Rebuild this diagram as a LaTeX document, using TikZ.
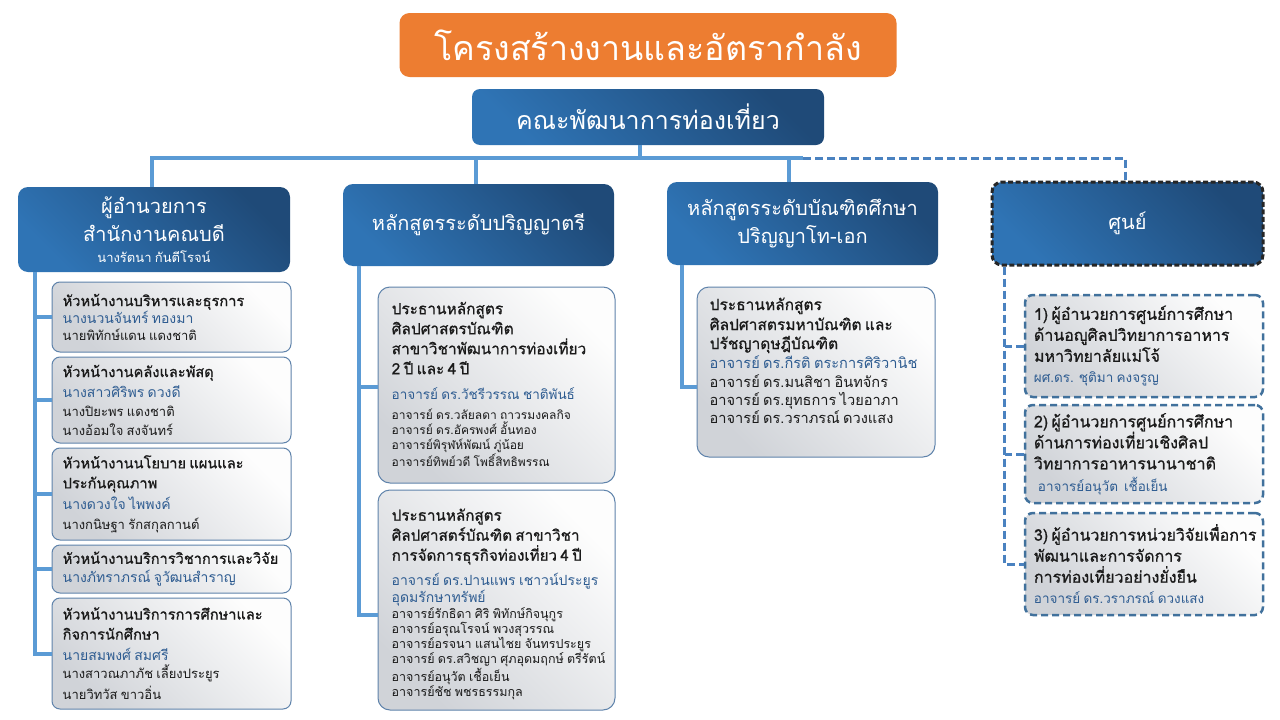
\documentclass[tikz,border=0pt]{standalone}
\usepackage{fontspec}
\setmainfont{Loma}[Script=Thai]
\newfontfamily\medfont{Loma}[Script=Thai,FakeBold=0.9]
\usetikzlibrary{calc}
\definecolor{orng}{HTML}{ED7D31}
\definecolor{hdark}{HTML}{1F4A78}
\definecolor{hlight}{HTML}{2F74B5}
\definecolor{conncol}{HTML}{5B9BD5}
\definecolor{dconncol}{HTML}{4A82C0}
\definecolor{bordcol}{HTML}{5F83AB}
\definecolor{cbord}{HTML}{41719C}
\definecolor{nblue}{HTML}{2E5C91}
\definecolor{boxlight}{HTML}{FDFDFD}
\definecolor{boxgray}{HTML}{D0D3D8}
\definecolor{inktext}{HTML}{1A1A1A}
\setlength\lineskiplimit{-30pt}
\setlength\lineskip{0pt}
\def\tsz{14.6}\def\tsk{20}\def\bsz{14}\def\bsk{20}\def\ksz{13}\def\ksk{19}
\newcommand\ttlline[2][\tsk]{{\medfont\fontsize{\tsz}{#1}\selectfont #2\par}}
\newcommand\bname[2][\bsk]{{\color{nblue}\fontsize{\bsz}{#1}\selectfont #2\par}}
\newcommand\kname[2][\ksk]{{\fontsize{\ksz}{#1}\selectfont #2\par}}
\tikzset{
  headbox/.style={rounded corners=10pt, top color=hdark, bottom color=hlight, shading angle=-45,
    text=white, align=center, inner xsep=6pt, inner ysep=0pt},
  childbox/.style={rounded corners=8pt, draw=bordcol, line width=1pt, top color=boxlight,
    bottom color=boxgray, shading angle=-45, inner sep=0pt},
  cbox/.style={rounded corners=8pt, draw=cbord, line width=2.5pt, dash pattern=on 7pt off 4pt,
    top color=boxlight, bottom color=boxgray, shading angle=-45, inner sep=0pt},
  txt/.style={anchor=west, inner sep=0pt, text width=300pt, align=left, text=inktext},
  conn/.style={draw=conncol, line width=4pt},
  dconn/.style={draw=dconncol, line width=3pt, dash pattern=on 8pt off 4pt},
}
\begin{document}
\begin{tikzpicture}[x=1pt,y=-1pt]
\useasboundingbox (0,0) rectangle (1280,720);
\fill[white] (0,0) rectangle (1280,720);

% title and faculty
\node[rounded corners=10pt, fill=orng, text=white, minimum width=497pt, minimum height=64pt, inner sep=0pt,
  font=\fontsize{34}{40}\selectfont] (title) at (648,45) {โครงสร้างงานและอัตรากำลัง};
\node[headbox, rounded corners=8pt, minimum width=352pt, minimum height=56pt,
  font=\fontsize{25}{30}\selectfont] (fac) at (648,117) {คณะพัฒนาการท่องเที่ยว};

% heads
\node[headbox, text width=260pt, minimum height=85pt] (head1) at (154,229.5)
  {{\fontsize{20}{28}\selectfont ผู้อำนวยการ\par สำนักงานคณบดี\par}{\fontsize{13}{21}\selectfont นางรัตนา กันตีโรจน์\par}};
\node[headbox, text width=259pt, minimum height=82pt] (head2) at (478.5,225)
  {{\fontsize{20}{28}\selectfont หลักสูตรระดับปริญญาตรี\par}};
\node[headbox, text width=259pt, minimum height=83pt] (head3) at (802.5,223.5)
  {{\fontsize{20}{28}\selectfont หลักสูตรระดับบัณฑิตศึกษา\par ปริญญาโท-เอก\par}};
\node[headbox, text width=259pt, minimum height=83pt, draw=black!85, line width=3pt,
  dash pattern=on 5pt off 2.5pt] (head4) at (1127.5,223.5)
  {{\fontsize{20}{28}\selectfont ศูนย์\par}};

% left column boxes
\node[childbox, minimum width=239pt, minimum height=70pt] (L1) at (171.5,317) {};
\node[childbox, minimum width=239pt, minimum height=86pt] (L2) at (171.5,400) {};
\node[childbox, minimum width=239pt, minimum height=92pt] (L3) at (171.5,494) {};
\node[childbox, minimum width=239pt, minimum height=48pt] (L4) at (171.5,569) {};
\node[childbox, minimum width=239pt, minimum height=111pt] (L5) at (171.5,653.5) {};
\node[txt] (L1t) at ([xshift=11pt]L1.west) {\ttlline{หัวหน้างานบริหารและธุรการ}\bname[17]{นางนวนจันทร์ ทองมา}\kname[17]{นายพิทักษ์แดน แดงชาติ}};
\node[txt] (L2t) at ([xshift=11pt]L2.west) {\ttlline{หัวหน้างานคลังและพัสดุ}\bname{นางสาวศิริพร ดวงดี}\kname{นางปิยะพร แดงชาติ}\kname{นางอ้อมใจ สงจันทร์}};
\node[txt] (L3t) at ([xshift=11pt]L3.west) {\ttlline{หัวหน้างานนโยบาย แผนและ}\ttlline{ประกันคุณภาพ}\bname[21]{นางดวงใจ ไพพงค์}\kname[20]{นางกนิษฐา รักสกุลกานต์}};
\node[txt] (L4t) at ([xshift=11pt]L4.west) {\ttlline{หัวหน้างานบริการวิชาการและวิจัย}\bname[19]{นางภัทราภรณ์ จูวัฒนสำราญ}};
\node[txt] (L5t) at ([xshift=11pt]L5.west) {\ttlline{หัวหน้างานบริการการศึกษาและ}\ttlline{กิจการนักศึกษา}\bname[21]{นายสมพงศ์ สมศรี}\kname[18]{นางสาวณภาภัช เลี้ยงประยูร}\kname[21]{นายวิทวัส ขาวอิ่น}};

% middle column boxes
\node[childbox, rounded corners=12pt, minimum width=237pt, minimum height=196pt] (M1) at (496.5,385) {};
\node[childbox, rounded corners=12pt, minimum width=237pt, minimum height=220pt] (M2) at (496.5,600) {};
\node[txt] (M1t) at ([xshift=14pt,yshift=1pt]M1.west) {\def\tsz{15.4}\def\bsz{13.5}\def\ksz{12}%
  \ttlline{ประธานหลักสูตร}\ttlline{ศิลปศาสตรบัณฑิต}\ttlline{สาขาวิชาพัฒนาการท่องเที่ยว}\ttlline{2 ปี และ 4 ปี}%
  \bname[25]{อาจารย์ ดร.วัชรีวรรณ ชาติพันธ์}\kname[20]{อาจารย์ ดร.วลัยลดา ถาวรมงคลกิจ}\kname[15]{อาจารย์ ดร.อัครพงศ์ อั้นทอง}%
  \kname[15]{อาจารย์พิรุฬห์พัฒน์ ภู่น้อย}\kname[15]{อาจารย์ทิพย์วดี โพธิ์สิทธิพรรณ}};
\node[txt] (M2t) at ([xshift=14pt,yshift=-4pt]M2.west) {\def\tsz{15.2}\def\bsz{14}\def\ksz{12.5}%
  \ttlline{ประธานหลักสูตร}\ttlline{ศิลปศาสตร์บัณฑิต สาขาวิชา}\ttlline{การจัดการธุรกิจท่องเที่ยว 4 ปี}%
  \bname[25]{อาจารย์ ดร.ปานแพร เชาวน์ประยูร}\bname[17]{อุดมรักษาทรัพย์}\kname[16]{อาจารย์รักธิดา ศิริ พิทักษ์กิจนุกูร}%
  \kname[15]{อาจารย์อรุณโรจน์ พวงสุวรรณ}\kname[15]{อาจารย์อรจนา แสนไชย จันทรประยูร}\kname[15]{อาจารย์ ดร.สวิชญา ศุภอุดมฤกษ์ ตรีรัตน์}%
  \kname[15]{อาจารย์อนุวัต เชื้อเย็น}\kname[15]{อาจารย์ชัช พชรธรรมกุล}};

% graduate box
\node[childbox, rounded corners=12pt, minimum width=238pt, minimum height=170pt] (R1) at (816,372) {};
\node[txt, anchor=north west] (R1t) at ([xshift=13pt,yshift=-11pt]R1.north west) {\def\tsz{15.5}\def\bsz{14.6}\def\ksz{14.6}%
  \ttlline{ประธานหลักสูตร}\ttlline[20]{ศิลปศาสตรมหาบัณฑิต และ}\ttlline[19]{ปรัชญาดุษฎีบัณฑิต}%
  \bname[19]{อาจารย์ ดร.กีรติ ตระการศิริวานิช}\kname[19]{อาจารย์ ดร.มนสิชา อินทจักร}\kname[18]{อาจารย์ ดร.ยุทธการ ไวยอาภา}%
  \kname[18]{อาจารย์ ดร.วราภรณ์ ดวงแสง}};

% centre boxes
\node[cbox, minimum width=238pt, minimum height=102pt] (C1) at (1144,346) {};
\node[cbox, minimum width=238pt, minimum height=98pt] (C2) at (1144,454) {};
\node[cbox, minimum width=238pt, minimum height=102pt] (C3) at (1144,564) {};
\node[txt] (C1t) at ([xshift=10pt]C1.west) {\def\tsz{16}\def\tsk{21}\def\bsz{13.5}%
  \ttlline{1) ผู้อำนวยการศูนย์การศึกษา}\ttlline{ด้านอญูศิลปวิทยาการอาหาร}\ttlline{มหาวิทยาลัยแม่โจ้}\bname[21]{ผศ.ดร. ชุติมา คงจรูญ}};
\node[txt] (C2t) at ([xshift=10pt]C2.west) {\def\tsz{16}\def\tsk{21}\def\bsz{13.5}%
  \ttlline{2) ผู้อำนวยการศูนย์การศึกษา}\ttlline{ด้านการท่องเที่ยวเชิงศิลป}\ttlline{วิทยาการอาหารนานาชาติ}\bname[22]{\hspace*{4pt}อาจารย์อนุวัต\hspace{6pt}เชื้อเย็น}};
\node[txt] (C3t) at ([xshift=10pt]C3.west) {\def\tsz{16}\def\tsk{21}\def\bsz{13.5}%
  \ttlline{3) ผู้อำนวยการหน่วยวิจัยเพื่อการ}\ttlline{พัฒนาและการจัดการ}\ttlline{การท่องเที่ยวอย่างยั่งยืน}\bname[21]{อาจารย์ ดร.วราภรณ์ ดวงแสง}};

% top connectors
\coordinate (busend) at (803,158);
\draw[conn] ([xshift=-8pt]fac.south) -- ([xshift=-8pt]fac.south |- busend);
\draw[conn] ([xshift=-2pt]head1.north) |- (busend);
\draw[conn] ([xshift=-3pt]head2.north) -- ([xshift=-3pt]head2.north |- busend);
\draw[conn] ([xshift=-14pt]head3.north) -- ([xshift=-14pt]head3.north |- busend);
\draw[dconn] (busend) -| ([xshift=-2pt]head4.north);

% left spine
\draw[conn] ([xshift=17pt]head1.south west) |- (L5.west);
\foreach \b in {L1,L2,L3,L4} \draw[conn] (\b.west) -- ++(-17,0);
% middle spine
\draw[conn] ([xshift=16pt]head2.south west) |- ($(M2.west)+(0,15)$);
\draw[conn] ($(M1.west)+(0,2)$) -- ++(-18,0);
% right spine
\draw[conn] ([xshift=15pt]head3.south west) |- ($(R1.west)+(0,15)$);
% centre spine
\draw[dconn] ([xshift=14pt]head4.south west) |- (C3.west);
\draw[dconn] (C1.west) -- ++(-19,0);
\draw[dconn] (C2.west) -- ++(-19,0);
\end{tikzpicture}
\end{document}
